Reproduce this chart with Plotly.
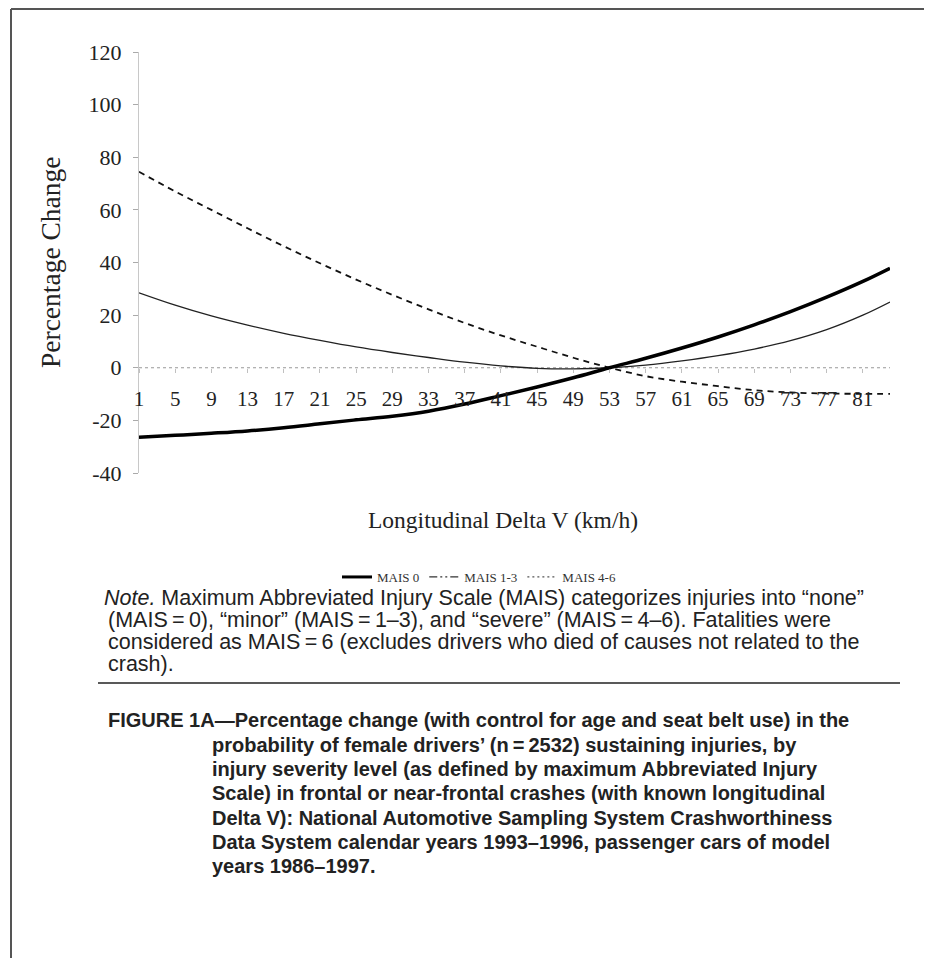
import plotly.graph_objects as go

# ---- data ----
delta_v = [1, 5, 9, 13, 17, 21, 25, 29, 33, 37, 41, 45, 49, 53, 57, 61, 65, 69, 73, 77, 81, 84]
mais0 = [-26.4, -25.7, -24.9, -24.0, -22.8, -21.3, -19.8, -18.4, -16.5, -13.8, -10.6, -7.3, -3.8, 0.0,
         3.6, 7.5, 11.7, 16.3, 21.3, 26.8, 32.8, 37.8]
mais13_thin = [28.5, 23.8, 19.7, 16.2, 13.1, 10.4, 7.9, 5.8, 3.9, 2.1, 0.7, -0.2, -0.4, 0.0,
               1.0, 2.6, 4.6, 7.1, 10.3, 14.5, 20.0, 25.0]
mais_dashed = [74.5, 67.0, 60.0, 53.0, 46.2, 39.7, 33.5, 27.7, 22.2, 17.0, 12.3, 8.0, 3.8, 0.0,
               -3.2, -5.3, -7.0, -8.5, -9.4, -9.8, -9.9, -9.9]

x_ticks = list(range(1, 82, 4))
y_ticks = [120, 100, 80, 60, 40, 20, 0, -20, -40]
y_ticktext = ["120", "100", "80", "60", "40", "20", "0", "-20", "-40"]
legend_names = ["MAIS 0", "MAIS 1-3", "MAIS 4-6"]

EQ = "\u2009=\u2009"
note_lines = [
    "<i>Note.</i> Maximum Abbreviated Injury Scale (MAIS) categorizes injuries into \u201cnone\u201d",
    f"(MAIS{EQ}0), \u201cminor\u201d (MAIS{EQ}1\u20133), and \u201csevere\u201d (MAIS{EQ}4\u20136). Fatalities were",
    f"considered as MAIS{EQ}6 (excludes drivers who died of causes not related to the",
    "crash).",
]
caption_lines = [
    "FIGURE 1A\u2014Percentage change (with control for age and seat belt use) in the",
    f"probability of female drivers\u2019 (n{EQ}2532) sustaining injuries, by",
    "injury severity level (as defined by maximum Abbreviated Injury",
    "Scale) in frontal or near-frontal crashes (with known longitudinal",
    "Delta V): National Automotive Sampling System Crashworthiness",
    "Data System calendar years 1993\u20131996, passenger cars of model",
    "years 1986\u20131997.",
]

# ---- layout geometry (page pixels; the page body has an 8px margin) ----
OFF = 8
W_FIG, H_FIG = 932 - OFF, 958 - OFF
L, R, T, B = 139, 890, 52, 473          # plot area in page pixels
PW, PH = R - L, B - T


def px(x):
    return (x - L) / PW


def py(y):
    return (B - y) / PH


SERIF = "Liberation Serif, Times New Roman, serif"
SANS = "Liberation Sans, Arial, Helvetica, sans-serif"

fig = go.Figure()

fig.add_trace(go.Scatter(x=delta_v, y=mais_dashed, mode="lines", line_shape="spline",
                         line=dict(color="#111", width=1.8, dash="6px,5px"),
                         showlegend=False, hoverinfo="skip"))
fig.add_trace(go.Scatter(x=delta_v, y=mais13_thin, mode="lines", line_shape="spline",
                         line=dict(color="#222", width=1.3),
                         showlegend=False, hoverinfo="skip"))
fig.add_trace(go.Scatter(x=delta_v, y=mais0, mode="lines", line_shape="spline",
                         line=dict(color="#000", width=3.5),
                         showlegend=False, hoverinfo="skip"))

# legend entries (styles as drawn in the reference legend)
legend_styles = [
    dict(color="#000", width=3, dash="solid"),
    dict(color="#333", width=1.2, dash="8px,3px,2px,3px,2px,3px"),
    dict(color="#555", width=1.2, dash="2px,3px"),
]
for name, st in zip(legend_names, legend_styles):
    fig.add_trace(go.Scatter(x=[None], y=[None], mode="lines", name=name, line=st,
                             showlegend=True))

# dotted category axis at zero
fig.add_hline(y=0, line=dict(color="#999", width=1, dash="dot"), layer="below")

fig.update_layout(
    width=W_FIG, height=H_FIG,
    margin=dict(l=L - OFF, r=W_FIG - (R - OFF), t=T - OFF, b=H_FIG - (B - OFF), pad=0),
    paper_bgcolor="white", plot_bgcolor="white",
    font=dict(family=SERIF, color="#222"),
    xaxis=dict(range=[1, 84], tickvals=x_ticks, ticktext=[str(v) for v in x_ticks],
               anchor="free", position=0.25, showline=False, showgrid=False, zeroline=False,
               ticks="outside", ticklen=4, tickcolor="rgba(150,150,150,0.6)",
               ticklabelstandoff=8,
               tickfont=dict(family=SERIF, size=21, color="#222")),
    yaxis=dict(range=[-40, 120], tickvals=y_ticks, ticktext=y_ticktext,
               showgrid=False, zeroline=False,
               showline=True, linecolor="#c8c8c8", linewidth=1,
               ticks="outside", ticklen=5, tickcolor="#aaa",
               ticklabelstandoff=7,
               tickfont=dict(family=SERIF, size=22, color="#222")),
    legend=dict(orientation="h", x=px(479), xanchor="center", y=py(577), yanchor="middle",
                font=dict(family=SERIF, size=13, color="#333"), bgcolor="rgba(0,0,0,0)",
                itemwidth=30, tracegroupgap=0),
    showlegend=True,
)

annotations = [
    dict(text="Longitudinal Delta V (km/h)", x=px(503), y=py(520), xanchor="center", yanchor="middle",
         font=dict(family=SERIF, size=23.5, color="#222")),
    dict(text="Percentage Change", x=px(50), y=py(262), xanchor="center", yanchor="middle",
         textangle=-90, font=dict(family=SERIF, size=27.5, color="#222")),
]
note_y = [598, 620, 642, 664]
note_x = [102, 106, 106, 106]
for t, yy, xx in zip(note_lines, note_y, note_x):
    annotations.append(dict(text=t, x=px(xx), y=py(yy), xanchor="left", yanchor="middle",
                            font=dict(family=SANS, size=21.5, color="#222")))
cap_y = [720, 745, 769, 793, 818, 842, 866]
cap_x = [106] + [210] * 6
for t, yy, xx in zip(caption_lines, cap_y, cap_x):
    annotations.append(dict(text="<b>" + t + "</b>", x=px(xx), y=py(yy), xanchor="left",
                            yanchor="middle", font=dict(family=SANS, size=20, color="#222")))
for a in annotations:
    a.update(xref="paper", yref="paper", showarrow=False)
fig.update_layout(annotations=annotations)

# frame and rule
frame = dict(color="#555", width=2)
shapes = [
    dict(type="line", x0=px(11), x1=px(11), y0=py(9), y1=py(962), line=frame),
    dict(type="line", x0=px(11), x1=px(928), y0=py(9), y1=py(9), line=frame),
    dict(type="line", x0=px(928), x1=px(928), y0=py(9), y1=py(540), line=frame),
    dict(type="line", x0=px(98), x1=px(900), y0=py(683), y1=py(683),
         line=dict(color="#222", width=1.5)),
]
for s in shapes:
    s.update(xref="paper", yref="paper", layer="above")
fig.update_layout(shapes=list(fig.layout.shapes) + shapes)

fig.write_html("out.html")
